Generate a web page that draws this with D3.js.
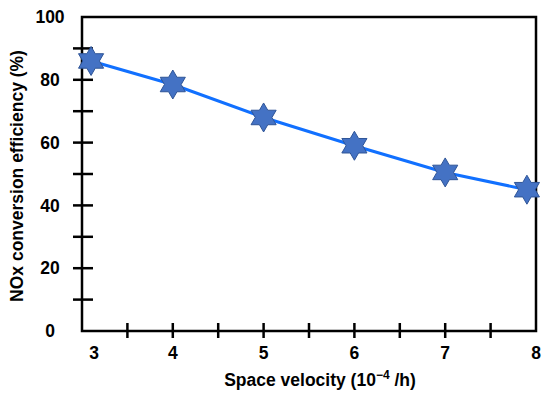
<!DOCTYPE html>
<html>
<head>
<meta charset="utf-8">
<script src="https://cdn.jsdelivr.net/npm/d3@7"></script>
<style>
  body { margin: 0; background: #fff; }
  text { font-family: "Liberation Sans", Arial, sans-serif; font-weight: bold; fill: #000; }
</style>
</head>
<body>
<div id="chart"></div>
<script>
// data
var spaceVelocity = [3.1, 4, 5, 6, 7, 7.9];
var noxEfficiency = [86, 78.5, 68, 59, 50.5, 45];
var xTickLabels = [3, 4, 5, 6, 7, 8];
var xMinorTicks = [3.5, 4, 4.5, 5, 5.5, 6, 6.5, 7, 7.5];
var yTickLabels = [0, 20, 40, 60, 80, 100];
var yMinorTicks = [10, 20, 30, 40, 50, 60, 70, 80, 90];

var margin = {top: 17, right: 14, bottom: 67, left: 82},
    width = 550 - margin.left - margin.right,
    height = 398 - margin.top - margin.bottom;

var svg = d3.select("#chart")
  .append("svg")
    .attr("width", width + margin.left + margin.right)
    .attr("height", height + margin.top + margin.bottom)
  .append("g")
    .attr("transform", "translate(" + margin.left + "," + margin.top + ")");

var x = d3.scaleLinear().domain([3, 8]).range([0, width]);
var y = d3.scaleLinear().domain([0, 100]).range([height, 0]);

// frame
svg.append("rect")
    .attr("x", 0).attr("y", 0)
    .attr("width", width).attr("height", height)
    .attr("fill", "none")
    .attr("stroke", "#000")
    .attr("stroke-width", 2.5);

// crossing tick marks
svg.selectAll(".ytick")
  .data(yMinorTicks)
  .enter().append("line")
    .attr("x1", -9).attr("x2", 11)
    .attr("y1", function(d) { return y(d); })
    .attr("y2", function(d) { return y(d); })
    .attr("stroke", "#000")
    .attr("stroke-width", 2.5);

svg.selectAll(".xtick")
  .data(xMinorTicks)
  .enter().append("line")
    .attr("x1", function(d) { return x(d); })
    .attr("x2", function(d) { return x(d); })
    .attr("y1", height - 8).attr("y2", height + 7)
    .attr("stroke", "#000")
    .attr("stroke-width", 2.5);

// tick labels
svg.selectAll(".ylabel")
  .data(yTickLabels)
  .enter().append("text")
    .attr("x", -32)
    .attr("y", function(d) { return y(d); })
    .attr("dy", "0.35em")
    .attr("text-anchor", "middle")
    .style("font-size", "17.5px")
    .text(function(d) { return d; });

svg.selectAll(".xlabel")
  .data(xTickLabels)
  .enter().append("text")
    .attr("x", function(d) { return x(d); })
    .attr("dx", function(d, i) { return i === 0 ? 12 : 0; })
    .attr("y", height + 28)
    .attr("text-anchor", "middle")
    .style("font-size", "17.5px")
    .text(function(d) { return d; });

// axis titles
var xTitle = svg.append("text")
    .attr("x", 238)
    .attr("y", height + 55)
    .attr("text-anchor", "middle")
    .style("font-size", "17.5px");
xTitle.append("tspan").text("Space velocity (10");
xTitle.append("tspan").attr("dy", -7).style("font-size", "12px").text("\u2212" + "4");
xTitle.append("tspan").attr("dy", 7).text(" /h)");

svg.append("text")
    .attr("transform", "translate(-59," + (height / 2 + 2) + ") rotate(-90)")
    .attr("text-anchor", "middle")
    .style("font-size", "17.5px")
    .text("NOx conversion efficiency (%)");

// line
var points = spaceVelocity.map(function(d, i) { return [d, noxEfficiency[i]]; });

svg.append("path")
    .datum(points)
    .attr("fill", "none")
    .attr("stroke", "#1170ff")
    .attr("stroke-width", 3)
    .attr("d", d3.line()
      .x(function(d) { return x(d[0]); })
      .y(function(d) { return y(d[1]); })
    );

// six-pointed star markers
function hexagram(R) {
  var r = R / Math.sqrt(3), pts = [];
  for (var k = 0; k < 12; k++) {
    var a = -Math.PI / 2 + k * Math.PI / 6;
    var rr = k % 2 === 0 ? R : r;
    pts.push([rr * Math.cos(a), rr * Math.sin(a)]);
  }
  return "M" + pts.join("L") + "Z";
}

svg.selectAll(".star")
  .data(points)
  .enter().append("path")
    .attr("transform", function(d) { return "translate(" + x(d[0]) + "," + y(d[1]) + ")"; })
    .attr("d", hexagram(14.5))
    .attr("fill", "#4472c4")
    .attr("stroke", "#2f5597")
    .attr("stroke-width", 1);
</script>
</body>
</html>
